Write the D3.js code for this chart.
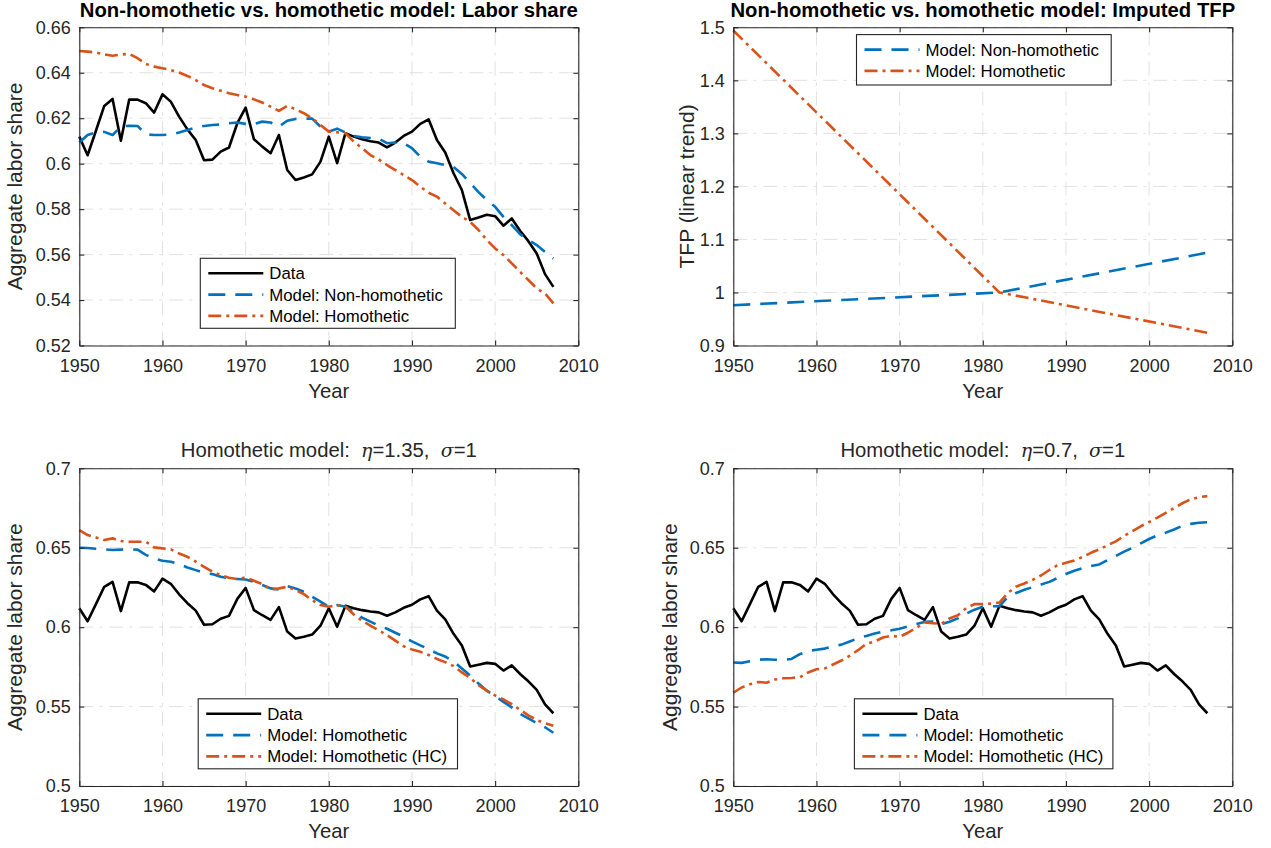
<!DOCTYPE html>
<html>
<head>
<meta charset="utf-8">
<script src="https://cdn.jsdelivr.net/npm/d3@7"></script>
<style>
  html, body { margin: 0; padding: 0; background: #fff; }
  svg { display: block; font-family: "Liberation Sans", Arial, Helvetica, sans-serif; }
  .tick text { fill: #262626; }
</style>
</head>
<body>
<svg id="fig" width="1271" height="848"></svg>
<script>
// ---- data -------------------------------------------------------------
const years = d3.range(1950, 2008);

const xTicks = [1950, 1960, 1970, 1980, 1990, 2000, 2010];
const xTickLabels = ["1950", "1960", "1970", "1980", "1990", "2000", "2010"];

// observed aggregate labor share
const laborShareData = [
  0.6119, 0.6037, 0.6145, 0.6254, 0.6285, 0.6101, 0.6282, 0.6282, 0.6266, 0.6225,
  0.6305, 0.6273, 0.6207, 0.6151, 0.6104, 0.6015, 0.6018, 0.6053, 0.6071, 0.6178,
  0.6247, 0.6107, 0.6075, 0.6046, 0.6126, 0.5972, 0.5928, 0.5939, 0.5953, 0.6009,
  0.6119, 0.6002, 0.6134, 0.6119, 0.6107, 0.6099, 0.6093, 0.6072, 0.6093, 0.6122,
  0.6141, 0.6175, 0.6195, 0.6104, 0.6049, 0.5958, 0.5884, 0.5752, 0.5763, 0.5775,
  0.5769, 0.5727, 0.5759, 0.5705, 0.5659, 0.5605, 0.5514, 0.5458
];

// panel 1: non-homothetic vs. homothetic model
const lsNonHomothetic = [
  0.6093, 0.6126, 0.6137, 0.6140, 0.6126, 0.6163, 0.6167, 0.6166, 0.6129, 0.6126,
  0.6126, 0.6128, 0.6137, 0.6148, 0.6159, 0.6166, 0.6170, 0.6172, 0.6178, 0.6181,
  0.6175, 0.6175, 0.6185, 0.6181, 0.6163, 0.6189, 0.6197, 0.6198, 0.6198, 0.6163,
  0.6141, 0.6154, 0.6137, 0.6122, 0.6116, 0.6113, 0.6110, 0.6090, 0.6093, 0.6090,
  0.6068, 0.6031, 0.6009, 0.6002, 0.5994, 0.5985, 0.5955, 0.5915, 0.5875, 0.5840,
  0.5810, 0.5766, 0.5730, 0.5690, 0.5664, 0.5642, 0.5612, 0.5583
];
const lsHomothetic = [
  0.6496, 0.6493, 0.6489, 0.6481, 0.6475, 0.6480, 0.6483, 0.6464, 0.6439, 0.6427,
  0.6420, 0.6412, 0.6401, 0.6386, 0.6368, 0.6346, 0.6332, 0.6321, 0.6310, 0.6302,
  0.6295, 0.6283, 0.6269, 0.6251, 0.6232, 0.6254, 0.6239, 0.6222, 0.6200, 0.6170,
  0.6141, 0.6138, 0.6134, 0.6097, 0.6068, 0.6038, 0.6019, 0.5994, 0.5972, 0.5950,
  0.5928, 0.5899, 0.5872, 0.5855, 0.5825, 0.5795, 0.5766, 0.5744, 0.5708, 0.5664,
  0.5627, 0.5598, 0.5561, 0.5524, 0.5488, 0.5451, 0.5429, 0.5385
];

// panel 2: imputed TFP (linear trend, break in 1982)
const tfpYears = [1950, 1982, 2007];
const tfpNonHomothetic = [0.976, 1.000, 1.075];
const tfpHomothetic = [1.494, 1.000, 0.924];

// panel 3: eta = 1.35, sigma = 1
const eta135Homothetic = [
  0.6500, 0.6498, 0.6494, 0.6490, 0.6486, 0.6488, 0.6490, 0.6488, 0.6455, 0.6433,
  0.6418, 0.6412, 0.6397, 0.6376, 0.6359, 0.6342, 0.6334, 0.6317, 0.6307, 0.6303,
  0.6300, 0.6286, 0.6265, 0.6244, 0.6237, 0.6258, 0.6244, 0.6223, 0.6191, 0.6160,
  0.6128, 0.6139, 0.6128, 0.6097, 0.6060, 0.6035, 0.6010, 0.5990, 0.5965, 0.5940,
  0.5910, 0.5885, 0.5862, 0.5835, 0.5815, 0.5785, 0.5740, 0.5695, 0.5645, 0.5600,
  0.5565, 0.5530, 0.5495, 0.5455, 0.5425, 0.5395, 0.5370, 0.5335
];
const eta135HC = [
  0.6611, 0.6580, 0.6565, 0.6548, 0.6559, 0.6542, 0.6538, 0.6538, 0.6538, 0.6502,
  0.6496, 0.6490, 0.6464, 0.6443, 0.6412, 0.6380, 0.6349, 0.6328, 0.6311, 0.6303,
  0.6313, 0.6292, 0.6271, 0.6237, 0.6244, 0.6254, 0.6233, 0.6208, 0.6170, 0.6139,
  0.6128, 0.6139, 0.6130, 0.6080, 0.6040, 0.6010, 0.5980, 0.5950, 0.5915, 0.5880,
  0.5860, 0.5845, 0.5825, 0.5800, 0.5780, 0.5755, 0.5715, 0.5680, 0.5635, 0.5600,
  0.5570, 0.5545, 0.5515, 0.5480, 0.5445, 0.5415, 0.5395, 0.5380
];

// panel 4: eta = 0.7, sigma = 1
const eta07Homothetic = [
  0.5777, 0.5775, 0.5785, 0.5795, 0.5798, 0.5795, 0.5793, 0.5800, 0.5830, 0.5850,
  0.5858, 0.5865, 0.5878, 0.5890, 0.5910, 0.5930, 0.5945, 0.5960, 0.5972, 0.5980,
  0.5990, 0.6005, 0.6020, 0.6033, 0.6035, 0.6018, 0.6034, 0.6055, 0.6085, 0.6110,
  0.6128, 0.6132, 0.6132, 0.6190, 0.6215, 0.6235, 0.6252, 0.6268, 0.6285, 0.6310,
  0.6335, 0.6355, 0.6372, 0.6385, 0.6395, 0.6422, 0.6448, 0.6475, 0.6500, 0.6528,
  0.6555, 0.6578, 0.6595, 0.6615, 0.6638, 0.6650, 0.6657, 0.6660
];
const eta07HC = [
  0.5587, 0.5620, 0.5640, 0.5655, 0.5650, 0.5670, 0.5678, 0.5680, 0.5685, 0.5715,
  0.5735, 0.5740, 0.5765, 0.5790, 0.5820, 0.5855, 0.5895, 0.5910, 0.5935, 0.5945,
  0.5940, 0.5965, 0.5995, 0.6030, 0.6025, 0.6020, 0.6055, 0.6075, 0.6120, 0.6145,
  0.6145, 0.6148, 0.6155, 0.6215, 0.6255, 0.6275, 0.6298, 0.6325, 0.6360, 0.6390,
  0.6405, 0.6420, 0.6442, 0.6468, 0.6490, 0.6515, 0.6540, 0.6575, 0.6605, 0.6635,
  0.6662, 0.6690, 0.6720, 0.6750, 0.6780, 0.6805, 0.6818, 0.6825
];

const yTicksTop = [0.52, 0.54, 0.56, 0.58, 0.6, 0.62, 0.64, 0.66];
const yTickLabelsTop = ["0.52", "0.54", "0.56", "0.58", "0.6", "0.62", "0.64", "0.66"];
const yTicksTfp = [0.9, 1, 1.1, 1.2, 1.3, 1.4, 1.5];
const yTickLabelsTfp = ["0.9", "1", "1.1", "1.2", "1.3", "1.4", "1.5"];
const yTicksBottom = [0.5, 0.55, 0.6, 0.65, 0.7];
const yTickLabelsBottom = ["0.5", "0.55", "0.6", "0.65", "0.7"];

// ---- styles -----------------------------------------------------------
const AX = "#262626";
const BLUE = "#0072BD";
const ORANGE = "#D95319";
const STYLE = {
  solid:   { color: "#000000", dash: null },
  dashed:  { color: BLUE, dash: "17,10" },
  dashdot: { color: ORANGE, dash: "13,5,3,5" }
};
const LINE_W = 2.6;
const FS_TICK = 18, FS_TITLE = 20.3, FS_XLABEL = 20.3, FS_YLABEL = 21, FS_LEGEND = 16.8;

const svg = d3.select("#fig");

function series(xs, ys) { return xs.map((x, i) => [x, ys[i]]); }

function drawPanel(p) {
  const x = d3.scaleLinear().domain([1950, 2010]).range([p.left, p.left + p.width]);
  const y = d3.scaleLinear().domain(p.yDomain).range([p.top + p.height, p.top]);
  const g = svg.append("g");

  // background
  g.append("rect").attr("x", p.left).attr("y", p.top)
    .attr("width", p.width).attr("height", p.height).attr("fill", "#fff");

  // grid (dash-dot)
  const grid = g.append("g").attr("stroke", "#e1e1e1").attr("stroke-width", 1)
    .attr("stroke-dasharray", "14,6,3,7");
  grid.selectAll("line.gx").data(xTicks).join("line")
    .attr("x1", d => x(d)).attr("x2", d => x(d))
    .attr("y1", p.top + p.height).attr("y2", p.top);
  grid.selectAll("line.gy").data(p.yTicks).join("line")
    .attr("y1", d => y(d)).attr("y2", d => y(d))
    .attr("x1", p.left).attr("x2", p.left + p.width);

  // series
  const line = d3.line().x(d => x(d[0])).y(d => y(d[1]));
  p.series.forEach(s => {
    const st = STYLE[s.style];
    g.append("path").datum(series(s.x, s.y))
      .attr("d", line).attr("fill", "none")
      .attr("stroke", st.color).attr("stroke-width", LINE_W)
      .attr("stroke-dasharray", st.dash)
      .attr("stroke-linejoin", "round");
  });

  // axes (ticks point inward, box on)
  const fmtX = (d, i) => xTickLabels[i];
  const fmtY = (d, i) => p.yTickLabels[i];
  const axisStyle = sel => {
    sel.selectAll("path.domain").attr("stroke", AX).attr("stroke-width", 1.1);
    sel.selectAll(".tick line").attr("stroke", AX).attr("stroke-width", 1.1);
    sel.selectAll(".tick text").attr("font-size", FS_TICK).attr("fill", AX)
      .attr("font-family", "'Liberation Sans', Arial, sans-serif");
  };
  g.append("g").attr("transform", `translate(0,${p.top + p.height})`)
    .call(d3.axisBottom(x).tickValues(xTicks).tickFormat(fmtX)
      .tickSizeInner(-5).tickSizeOuter(0).tickPadding(13.5))
    .call(axisStyle);
  g.append("g").attr("transform", `translate(0,${p.top})`)
    .call(d3.axisTop(x).tickValues(xTicks).tickFormat("")
      .tickSizeInner(-5).tickSizeOuter(0))
    .call(axisStyle);
  g.append("g").attr("transform", `translate(${p.left},0)`)
    .call(d3.axisLeft(y).tickValues(p.yTicks).tickFormat(fmtY)
      .tickSizeInner(-5).tickSizeOuter(0).tickPadding(8.5))
    .call(axisStyle);
  g.append("g").attr("transform", `translate(${p.left + p.width},0)`)
    .call(d3.axisRight(y).tickValues(p.yTicks).tickFormat("")
      .tickSizeInner(-5).tickSizeOuter(0))
    .call(axisStyle);
  g.selectAll(".domain").attr("fill", "none");

  // title
  const cx = p.left + p.width / 2;
  const t = svg.append("text").attr("x", cx).attr("y", p.titleY)
    .attr("text-anchor", "middle").attr("font-size", FS_TITLE)
    .attr("fill", p.titleBold ? "#000" : AX)
    .attr("font-weight", p.titleBold ? "bold" : "normal")
    .style("white-space", "pre");
  p.title.forEach(part => {
    const ts = t.append("tspan").text(part.text);
    if (part.greek) {
      ts.attr("font-style", "italic")
        .attr("font-family", "'DejaVu Serif', 'Liberation Serif', serif")
        .attr("font-size", 19);
    }
  });

  // axis labels
  svg.append("text").attr("x", cx).attr("y", p.top + p.height + 52)
    .attr("text-anchor", "middle").attr("font-size", FS_XLABEL).attr("fill", AX)
    .text("Year");
  svg.append("text")
    .attr("transform", `translate(${p.left - p.ylabelOffset},${p.top + p.height / 2}) rotate(-90)`)
    .attr("text-anchor", "middle").attr("font-size", FS_YLABEL).attr("fill", AX)
    .text(p.ylabel);

  // legend
  const L = p.legend;
  const lg = svg.append("g");
  lg.append("rect").attr("x", L.x).attr("y", L.y).attr("width", L.w).attr("height", L.h)
    .attr("fill", "#fff").attr("stroke", AX).attr("stroke-width", 1.1);
  L.items.forEach((it, i) => {
    const st = STYLE[it.style];
    const yy = L.y + 15 + i * 21.3;
    lg.append("line").attr("x1", L.x + 8).attr("x2", L.x + 63)
      .attr("y1", yy).attr("y2", yy)
      .attr("stroke", st.color).attr("stroke-width", LINE_W)
      .attr("stroke-dasharray", st.dash);
    lg.append("text").attr("x", L.x + 69).attr("y", yy).attr("dy", "0.36em")
      .attr("font-size", FS_LEGEND).attr("fill", "#000").text(it.label);
  });
}

// ---- panels -----------------------------------------------------------
drawPanel({
  left: 79.3, top: 27.3, width: 499, height: 318.2,
  yDomain: [0.52, 0.66], yTicks: yTicksTop, yTickLabels: yTickLabelsTop,
  titleY: 17, titleBold: true,
  title: [{ text: "Non-homothetic vs. homothetic model: Labor share" }],
  ylabel: "Aggregate labor share", ylabelOffset: 57,
  series: [
    { x: years, y: laborShareData, style: "solid" },
    { x: years, y: lsNonHomothetic, style: "dashed" },
    { x: years, y: lsHomothetic, style: "dashdot" }
  ],
  legend: { x: 200.3, y: 258.3, w: 255, h: 70, items: [
    { label: "Data", style: "solid" },
    { label: "Model: Non-homothetic", style: "dashed" },
    { label: "Model: Homothetic", style: "dashdot" }
  ] }
});

drawPanel({
  left: 733.3, top: 27.3, width: 499, height: 318.2,
  yDomain: [0.9, 1.5], yTicks: yTicksTfp, yTickLabels: yTickLabelsTfp,
  titleY: 17, titleBold: true,
  title: [{ text: "Non-homothetic vs. homothetic model: Imputed TFP" }],
  ylabel: "TFP (linear trend)", ylabelOffset: 39.5,
  series: [
    { x: tfpYears, y: tfpNonHomothetic, style: "dashed" },
    { x: tfpYears, y: tfpHomothetic, style: "dashdot" }
  ],
  legend: { x: 856.5, y: 34.6, w: 254.7, h: 50.4, items: [
    { label: "Model: Non-homothetic", style: "dashed" },
    { label: "Model: Homothetic", style: "dashdot" }
  ] }
});

drawPanel({
  left: 79.3, top: 468.3, width: 499, height: 317.7,
  yDomain: [0.5, 0.7], yTicks: yTicksBottom, yTickLabels: yTickLabelsBottom,
  titleY: 457, titleBold: false,
  title: [{ text: "Homothetic model:  " }, { text: "η", greek: true },
          { text: "=1.35,  " }, { text: "σ", greek: true }, { text: "=1" }],
  ylabel: "Aggregate labor share", ylabelOffset: 57,
  series: [
    { x: years, y: laborShareData, style: "solid" },
    { x: years, y: eta135Homothetic, style: "dashed" },
    { x: years, y: eta135HC, style: "dashdot" }
  ],
  legend: { x: 198.2, y: 698.8, w: 259.3, h: 70, items: [
    { label: "Data", style: "solid" },
    { label: "Model: Homothetic", style: "dashed" },
    { label: "Model: Homothetic (HC)", style: "dashdot" }
  ] }
});

drawPanel({
  left: 733.3, top: 468.3, width: 499, height: 317.7,
  yDomain: [0.5, 0.7], yTicks: yTicksBottom, yTickLabels: yTickLabelsBottom,
  titleY: 457, titleBold: false,
  title: [{ text: "Homothetic model:  " }, { text: "η", greek: true },
          { text: "=0.7,  " }, { text: "σ", greek: true }, { text: "=1" }],
  ylabel: "Aggregate labor share", ylabelOffset: 56.5,
  series: [
    { x: years, y: laborShareData, style: "solid" },
    { x: years, y: eta07Homothetic, style: "dashed" },
    { x: years, y: eta07HC, style: "dashdot" }
  ],
  legend: { x: 854.4, y: 698.8, w: 258.5, h: 70, items: [
    { label: "Data", style: "solid" },
    { label: "Model: Homothetic", style: "dashed" },
    { label: "Model: Homothetic (HC)", style: "dashdot" }
  ] }
});
</script>
</body>
</html>
